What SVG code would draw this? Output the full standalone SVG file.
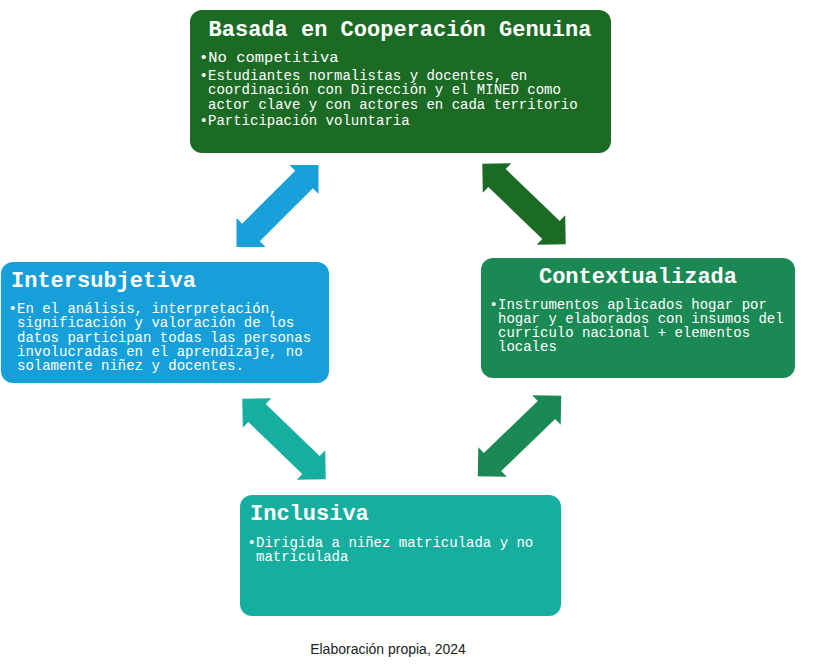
<svg xmlns="http://www.w3.org/2000/svg" width="821" height="670" viewBox="0 0 821 670">
<style>
.title{font-family:"Liberation Mono","Courier New",monospace;font-size:22px;font-weight:bold;fill:#ffffff}
.body{font-family:"Liberation Mono","Courier New",monospace;font-size:14px;fill:#ffffff}
.cap{font-family:"Liberation Sans",Arial,sans-serif;font-size:14px;fill:#222222}
</style>
<defs>
<path id="dblarrow" d="M-58,0 L-37.5,-20.5 L-37.5,-12.5 L37.5,-12.5 L37.5,-20.5 L58,0 L37.5,20.5 L37.5,12.5 L-37.5,12.5 L-37.5,20.5 Z"/>
</defs>
<rect width="821" height="670" fill="#ffffff"/>
<g id="connectors">
<use href="#dblarrow" transform="translate(277.5,206) rotate(-45)" fill="#199fda"/>
<use href="#dblarrow" transform="translate(524,204) rotate(44)" fill="#1c6b24"/>
<use href="#dblarrow" transform="translate(284,439) rotate(44)" fill="#16ae9e"/>
<use href="#dblarrow" transform="translate(519.5,436) rotate(-44)" fill="#1a8954"/>
</g>
<g id="node-cooperacion">
<rect x="190" y="10" width="421" height="143" rx="12" fill="#1c6b24"/>
<text class="title" x="400" y="36" text-anchor="middle">Basada en Cooperación Genuina</text>
<text class="body" x="199" y="62" style="font-size:15.5px">•No competitiva</text>
<text class="body" x="199.6" y="80">•Estudiantes normalistas y docentes, en</text>
<text class="body" x="208" y="94">coordinación con Dirección y el MINED como</text>
<text class="body" x="208" y="109">actor clave y con actores en cada territorio</text>
<text class="body" x="199.6" y="125">•Participación voluntaria</text>
</g>
<g id="node-intersubjetiva">
<rect x="1" y="262" width="328" height="121" rx="12" fill="#169fd9"/>
<text class="title" x="11" y="287">Intersubjetiva</text>
<text class="body" x="8.6" y="313">•En el análisis, interpretación,</text>
<text class="body" x="17" y="327">significación y valoración de los</text>
<text class="body" x="17" y="341.5">datos participan todas las personas</text>
<text class="body" x="17" y="355.5">involucradas en el aprendizaje, no</text>
<text class="body" x="17" y="370">solamente niñez y docentes.</text>
</g>
<g id="node-contextualizada">
<rect x="481" y="258" width="314" height="120" rx="12" fill="#1a8954"/>
<text class="title" x="638" y="283" text-anchor="middle">Contextualizada</text>
<text class="body" x="489.6" y="309">•Instrumentos aplicados hogar por</text>
<text class="body" x="498" y="323">hogar y elaborados con insumos del</text>
<text class="body" x="498" y="337">currículo nacional + elementos</text>
<text class="body" x="498" y="351">locales</text>
</g>
<g id="node-inclusiva">
<rect x="240" y="495" width="321" height="121" rx="12" fill="#16ae9e"/>
<text class="title" x="250" y="520">Inclusiva</text>
<text class="body" x="247.6" y="547">•Dirigida a niñez matriculada y no</text>
<text class="body" x="256" y="561">matriculada</text>
</g>
<text class="cap" x="388" y="654" text-anchor="middle">Elaboración propia, 2024</text>
</svg>
